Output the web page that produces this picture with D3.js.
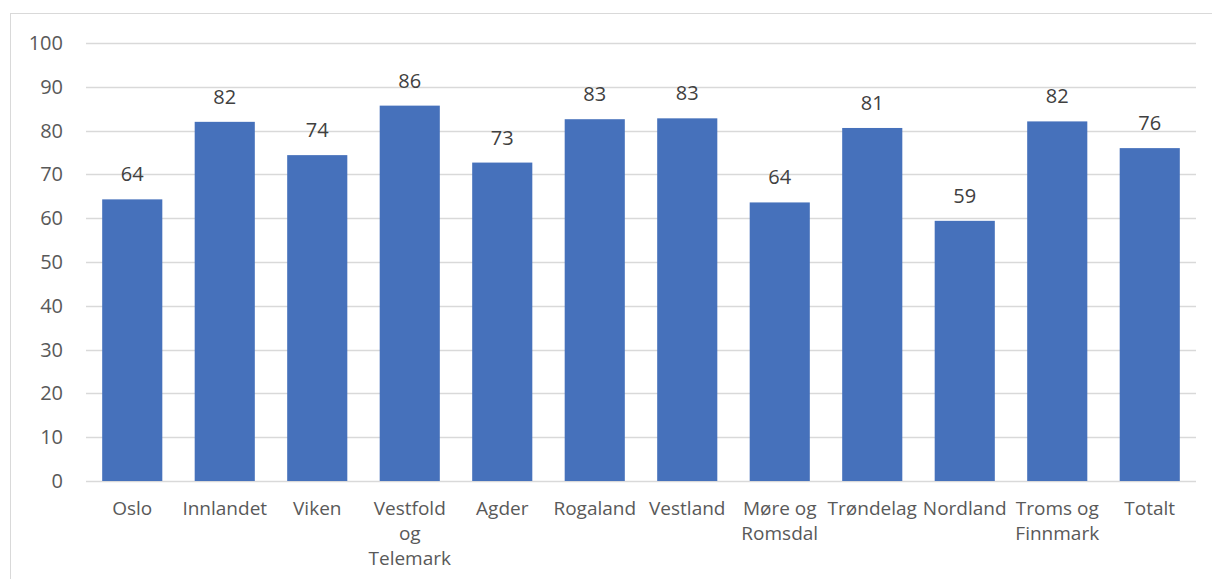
<!DOCTYPE html>
<html>
<head>
<meta charset="utf-8">
<script src="https://cdn.jsdelivr.net/npm/d3@7"></script>
<style>
  body { margin: 0; background: #fff; }
  svg { font-family: "Segoe UI", "Open Sans", sans-serif; }
</style>
</head>
<body>
<svg id="chart" width="1212" height="579"></svg>
<script>
const categories = ["Oslo", "Innlandet", "Viken", "Vestfold og Telemark", "Agder", "Rogaland",
  "Vestland", "Møre og Romsdal", "Trøndelag", "Nordland", "Troms og Finnmark", "Totalt"];
const values = [64.3, 82.0, 74.4, 85.7, 72.7, 82.6, 82.8, 63.6, 80.6, 59.4, 82.1, 76.0];
const yTicks = [0, 10, 20, 30, 40, 50, 60, 70, 80, 90, 100];

const svg = d3.select("#chart");

// outer chart border
svg.append("rect")
  .attr("x", 10.5).attr("y", 13.5)
  .attr("width", 1220).attr("height", 600)
  .attr("fill", "none")
  .attr("stroke", "#d9d9d9");

const x = d3.scaleBand()
  .domain(categories)
  .range([86, 1196])
  .paddingInner(0.35)
  .paddingOuter(0.175);

const y = d3.scaleLinear().domain([0, 100]).range([481, 43]);

// gridlines
svg.append("g")
  .selectAll("line")
  .data(yTicks)
  .enter().append("line")
  .attr("x1", 86).attr("x2", 1196)
  .attr("y1", d => Math.round(y(d)) + 0.5)
  .attr("y2", d => Math.round(y(d)) + 0.5)
  .attr("stroke", "#d9d9d9")
  .attr("stroke-width", 1.5);

// y axis labels
svg.append("g")
  .selectAll("text")
  .data(yTicks)
  .enter().append("text")
  .attr("x", 63)
  .attr("y", d => y(d))
  .attr("dy", "0.35em")
  .attr("text-anchor", "end")
  .style("font-size", "20px")
  .style("fill", "#595959")
  .text(d => d);

// bars
svg.append("g")
  .selectAll("rect")
  .data(values)
  .enter().append("rect")
  .attr("x", (d, i) => x(categories[i]))
  .attr("width", x.bandwidth())
  .attr("y", d => y(d))
  .attr("height", d => y(0) - y(d))
  .attr("fill", "#4671bb");

// value labels
svg.append("g")
  .selectAll("text")
  .data(values)
  .enter().append("text")
  .attr("x", (d, i) => x(categories[i]) + x.bandwidth() / 2)
  .attr("y", d => y(d) - 18)
  .attr("text-anchor", "middle")
  .style("font-size", "20px")
  .style("fill", "#404040")
  .text(d => Math.round(d));

// category labels, wrapped to the band width
const catLabels = svg.append("g")
  .selectAll("text")
  .data(categories)
  .enter().append("text")
  .attr("x", d => x(d) + x.bandwidth() / 2)
  .attr("y", 515)
  .attr("text-anchor", "middle")
  .style("font-size", "19px")
  .style("fill", "#595959");

catLabels.each(function(d) {
  const text = d3.select(this);
  const cx = x(d) + x.bandwidth() / 2;
  const words = d.split(" ");
  const maxW = x.step() - 2;
  let line = [];
  let tspan = text.append("tspan").attr("x", cx).attr("dy", 0);
  words.forEach(w => {
    line.push(w);
    tspan.text(line.join(" "));
    if (tspan.node().getComputedTextLength() > maxW && line.length > 1) {
      line.pop();
      tspan.text(line.join(" "));
      line = [w];
      tspan = text.append("tspan").attr("x", cx).attr("dy", 25).text(w);
    }
  });
});
</script>
</body>
</html>
